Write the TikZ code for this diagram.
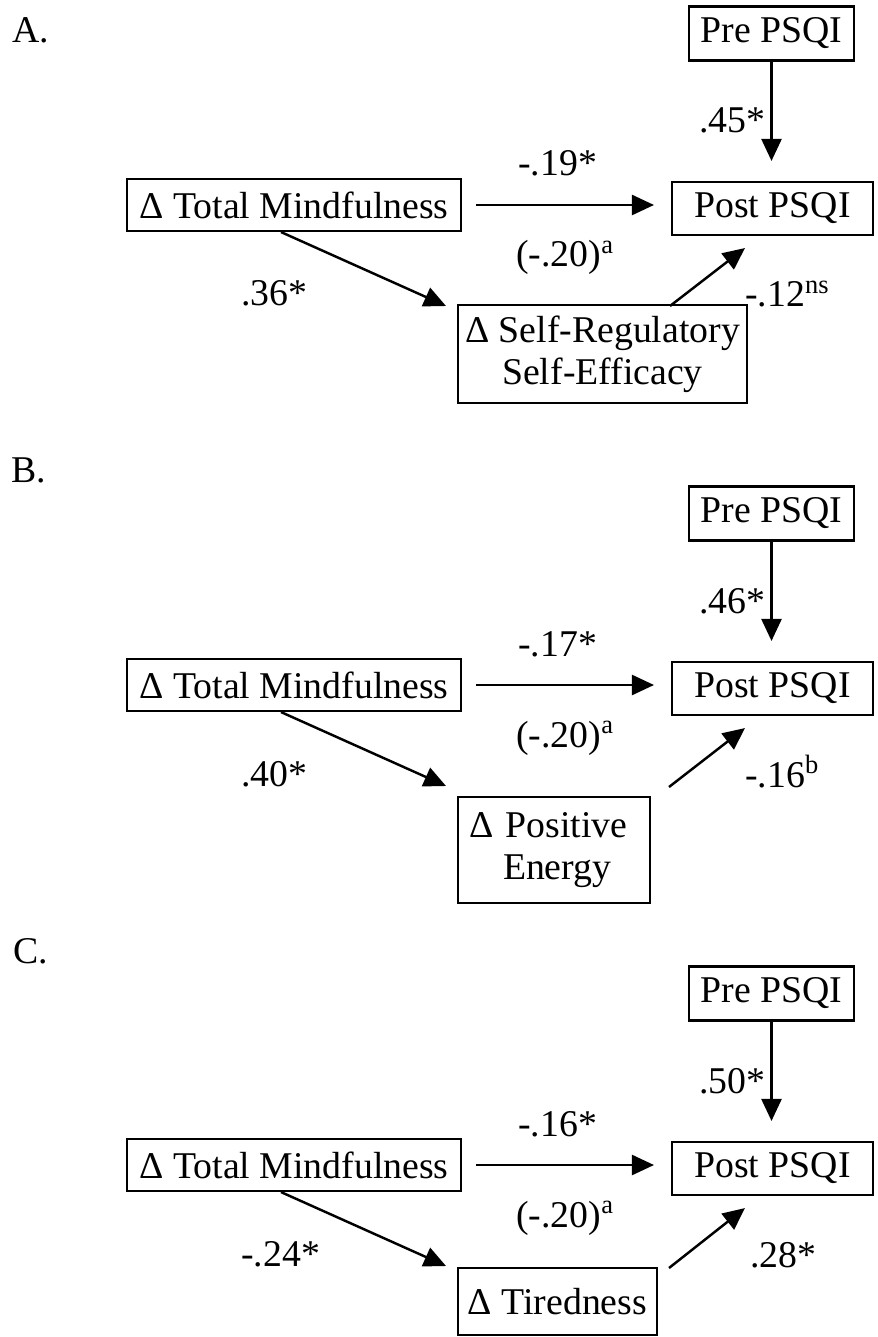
\documentclass[tikz,border=0pt]{standalone}
\usepackage{fontspec}
\setmainfont{Liberation Serif}
\usetikzlibrary{arrows.meta}

\tikzset{
    box/.style={draw, line width=1.2pt, inner sep=0pt, align=center},
    arr/.style={-{Triangle[length=0.44cm,width=0.4cm]}, line width=1.4pt},
    coef/.style={anchor=base west, inner sep=0pt}
}

\begin{document}
\begin{tikzpicture}[x=0.02cm, y=-0.02cm, font=\fontsize{21.5}{24}\selectfont]
        \useasboundingbox (0,0) rectangle (877,1337);
        % panel labels
        \node[coef] (labA) at (12,43) {A.};
        \node[coef] (labB) at (11,482) {B.};
        \node[coef] (labC) at (13,963) {C.};

        % A: self-regulatory self-efficacy
        \begin{scope}
        \node[box, minimum width=3.3cm, minimum height=1.08cm] (pre) at (771.5,33.5) {Pre PSQI};
        \node[box, minimum width=4.02cm, minimum height=1.06cm] (post) at (772.5,208.5) {Post PSQI};
        \node[box, minimum width=6.68cm, minimum height=1.04cm] (tm) at (294,205) {Δ Total Mindfulness};
        \node[box, minimum width=5.78cm, minimum height=1.96cm] (med) at (602.5,354) {Δ Self-Regulatory\\Self-Efficacy};
        \coordinate (medin) at (446,306);
        \coordinate (medout) at (670,306);
        \draw[arr, shorten >=0.4cm] (pre.south) -- (pre.south |- post.north);
        \draw[arr, shorten <=0.28cm, shorten >=0.34cm] (tm.east) -- (tm.east -| post.west);
        \draw[arr] ([xshift=-0.26cm]tm.south) -- (medin);
        \draw[arr] (medout) -- ([shift={(74,12)}]post.south west);
        \node[coef] (cpre) at (699,133) {.45*};
        \node[coef] (cdir) at (518,176) {-.19*};
        \node[coef] (ctot) at (516,267) {(-.20)\textsuperscript{a}};
        \node[coef] (ca) at (241,306) {.36*};
        \node[coef] (cb) at (745,307) {-.12\textsuperscript{ns}};
        \end{scope}

        % B: positive energy
        \begin{scope}[shift={(0,480)}]
        \node[box, minimum width=3.3cm, minimum height=1.08cm] (pre) at (771.5,33.5) {Pre PSQI};
        \node[box, minimum width=4.02cm, minimum height=1.06cm] (post) at (772.5,208.5) {Post PSQI};
        \node[box, minimum width=6.68cm, minimum height=1.04cm] (tm) at (294,205) {Δ Total Mindfulness};
        \node[box, align=left, inner xsep=0.22cm, text width=3.4cm, minimum height=2.12cm] (med) at (554,370) {Δ Positive\\\hspace*{0.68cm}Energy};
        \coordinate (medin) at (446,306);
        \coordinate (medout) at (669,307);
        \draw[arr, shorten >=0.4cm] (pre.south) -- (pre.south |- post.north);
        \draw[arr, shorten <=0.28cm, shorten >=0.34cm] (tm.east) -- (tm.east -| post.west);
        \draw[arr] ([xshift=-0.26cm]tm.south) -- (medin);
        \draw[arr] (medout) -- ([shift={(74,12)}]post.south west);
        \node[coef] (cpre) at (699,133) {.46*};
        \node[coef] (cdir) at (518,176) {-.17*};
        \node[coef] (ctot) at (516,267) {(-.20)\textsuperscript{a}};
        \node[coef] (ca) at (241,306) {.40*};
        \node[coef] (cb) at (745,307) {-.16\textsuperscript{b}};
        \end{scope}

        % C: tiredness
        \begin{scope}[shift={(0,960)}]
        \node[box, minimum width=3.3cm, minimum height=1.08cm] (pre) at (771.5,33.5) {Pre PSQI};
        \node[box, minimum width=4.02cm, minimum height=1.06cm] (post) at (772.5,208.5) {Post PSQI};
        \node[box, minimum width=6.68cm, minimum height=1.04cm] (tm) at (294,205) {Δ Total Mindfulness};
        \node[box, minimum width=3.98cm, minimum height=1.34cm] (med) at (557.5,341.5) {Δ Tiredness};
        \coordinate (medin) at (446,306);
        \coordinate (medout) at (669,308);
        \draw[arr, shorten >=0.4cm] (pre.south) -- (pre.south |- post.north);
        \draw[arr, shorten <=0.28cm, shorten >=0.34cm] (tm.east) -- (tm.east -| post.west);
        \draw[arr] ([xshift=-0.26cm]tm.south) -- (medin);
        \draw[arr] (medout) -- ([shift={(74,12)}]post.south west);
        \node[coef] (cpre) at (699,133) {.50*};
        \node[coef] (cdir) at (518,176) {-.16*};
        \node[coef] (ctot) at (516,267) {(-.20)\textsuperscript{a}};
        \node[coef] (ca) at (241,306) {-.24*};
        \node[coef] (cb) at (750,307) {.28*};
        \end{scope}
\end{tikzpicture}
\end{document}
